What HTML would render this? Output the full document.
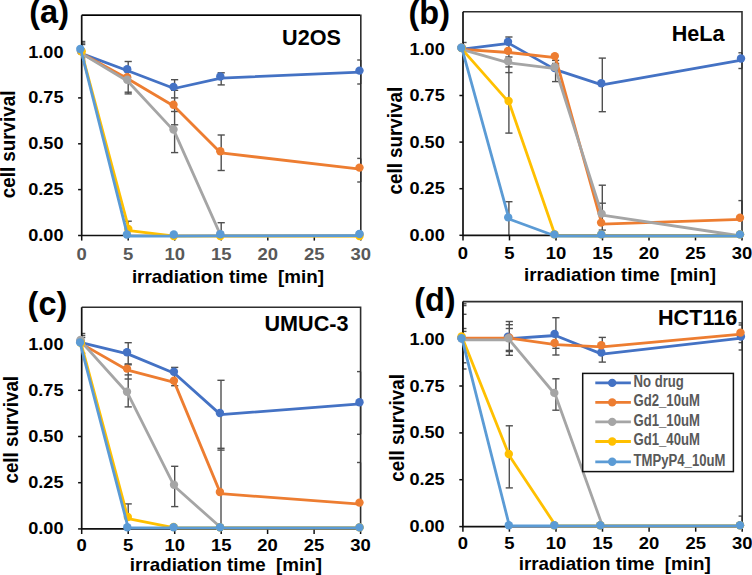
<!DOCTYPE html>
<html><head><meta charset="utf-8"><style>
html,body{margin:0;padding:0;background:#fff;overflow:hidden;}
svg{display:block;}
text{font-family:"Liberation Sans",sans-serif;font-weight:bold;white-space:pre;}
</style></head><body>
<svg width="752" height="575" viewBox="0 0 752 575">
<rect width="752" height="575" fill="#fff"/>
<line x1="81.7" y1="41.5" x2="81.7" y2="61.5" stroke="#505050" stroke-width="1.4"/>
<line x1="81.7" y1="41.5" x2="85.3" y2="41.5" stroke="#505050" stroke-width="1.4"/>
<line x1="81.7" y1="43" x2="85.3" y2="43" stroke="#505050" stroke-width="1.4"/>
<line x1="81.7" y1="44.5" x2="85.3" y2="44.5" stroke="#505050" stroke-width="1.4"/>
<line x1="81.7" y1="58" x2="85.3" y2="58" stroke="#505050" stroke-width="1.4"/>
<line x1="81.7" y1="60" x2="85.3" y2="60" stroke="#505050" stroke-width="1.4"/>
<line x1="81.7" y1="61.5" x2="85.3" y2="61.5" stroke="#505050" stroke-width="1.4"/>
<line x1="128.2" y1="61.5" x2="128.2" y2="93.9" stroke="#505050" stroke-width="1.4"/>
<line x1="128.2" y1="221.2" x2="128.2" y2="230" stroke="#505050" stroke-width="1.4"/>
<line x1="124.6" y1="61.5" x2="131.8" y2="61.5" stroke="#505050" stroke-width="1.4"/>
<line x1="124.6" y1="92.2" x2="131.8" y2="92.2" stroke="#505050" stroke-width="1.4"/>
<line x1="124.6" y1="93.9" x2="131.8" y2="93.9" stroke="#505050" stroke-width="1.4"/>
<line x1="124.6" y1="221.2" x2="131.8" y2="221.2" stroke="#505050" stroke-width="1.4"/>
<line x1="174.6" y1="79.7" x2="174.6" y2="152.6" stroke="#505050" stroke-width="1.4"/>
<line x1="171.0" y1="79.7" x2="178.2" y2="79.7" stroke="#505050" stroke-width="1.4"/>
<line x1="171.0" y1="90.3" x2="178.2" y2="90.3" stroke="#505050" stroke-width="1.4"/>
<line x1="171.0" y1="97.9" x2="178.2" y2="97.9" stroke="#505050" stroke-width="1.4"/>
<line x1="171.0" y1="111.5" x2="178.2" y2="111.5" stroke="#505050" stroke-width="1.4"/>
<line x1="171.0" y1="124.8" x2="178.2" y2="124.8" stroke="#505050" stroke-width="1.4"/>
<line x1="171.0" y1="152.6" x2="178.2" y2="152.6" stroke="#505050" stroke-width="1.4"/>
<line x1="221.2" y1="72.8" x2="221.2" y2="84.9" stroke="#505050" stroke-width="1.4"/>
<line x1="221.2" y1="135" x2="221.2" y2="170.5" stroke="#505050" stroke-width="1.4"/>
<line x1="221.2" y1="222.7" x2="221.2" y2="235" stroke="#505050" stroke-width="1.4"/>
<line x1="217.6" y1="72.8" x2="224.8" y2="72.8" stroke="#505050" stroke-width="1.4"/>
<line x1="217.6" y1="84.9" x2="224.8" y2="84.9" stroke="#505050" stroke-width="1.4"/>
<line x1="217.6" y1="135" x2="224.8" y2="135" stroke="#505050" stroke-width="1.4"/>
<line x1="217.6" y1="170.5" x2="224.8" y2="170.5" stroke="#505050" stroke-width="1.4"/>
<line x1="217.6" y1="222.7" x2="224.8" y2="222.7" stroke="#505050" stroke-width="1.4"/>
<line x1="360.8" y1="60" x2="360.8" y2="84" stroke="#505050" stroke-width="1.4"/>
<line x1="360.8" y1="158.4" x2="360.8" y2="182" stroke="#505050" stroke-width="1.4"/>
<line x1="357.2" y1="60" x2="360.8" y2="60" stroke="#505050" stroke-width="1.4"/>
<line x1="357.2" y1="84" x2="360.8" y2="84" stroke="#505050" stroke-width="1.4"/>
<line x1="357.2" y1="158.4" x2="360.8" y2="158.4" stroke="#505050" stroke-width="1.4"/>
<line x1="357.2" y1="182" x2="360.8" y2="182" stroke="#505050" stroke-width="1.4"/>
<path d="M81.7 15.3 H360.8 V235.5" fill="none" stroke="#2e2e2e" stroke-width="1.6"/>
<path d="M81.7 15.3 H360.0" fill="none" stroke="#000" stroke-width="1.6"/>
<path d="M81.7 15.3 V235.5 H360.8" fill="none" stroke="#111" stroke-width="1.7"/>
<line x1="78.1" y1="235.5" x2="81.7" y2="235.5" stroke="#111" stroke-width="1.5"/>
<line x1="78.1" y1="189.6" x2="81.7" y2="189.6" stroke="#111" stroke-width="1.5"/>
<line x1="78.1" y1="143.8" x2="81.7" y2="143.8" stroke="#111" stroke-width="1.5"/>
<line x1="78.1" y1="97.9" x2="81.7" y2="97.9" stroke="#111" stroke-width="1.5"/>
<line x1="78.1" y1="52.0" x2="81.7" y2="52.0" stroke="#111" stroke-width="1.5"/>
<line x1="81.7" y1="235.5" x2="81.7" y2="240.6" stroke="#111" stroke-width="1.5"/>
<line x1="128.2" y1="235.5" x2="128.2" y2="240.6" stroke="#111" stroke-width="1.5"/>
<line x1="174.7" y1="235.5" x2="174.7" y2="240.6" stroke="#111" stroke-width="1.5"/>
<line x1="221.2" y1="235.5" x2="221.2" y2="240.6" stroke="#111" stroke-width="1.5"/>
<line x1="267.8" y1="235.5" x2="267.8" y2="240.6" stroke="#111" stroke-width="1.5"/>
<line x1="314.3" y1="235.5" x2="314.3" y2="240.6" stroke="#111" stroke-width="1.5"/>
<line x1="360.8" y1="235.5" x2="360.8" y2="240.6" stroke="#111" stroke-width="1.5"/>
<path d="M81.7 53.6 L127.8 70.8 L174.2 88.5 L220.9 78.1 L360.2 72.2" fill="none" stroke="#4472C4" stroke-width="2.8" stroke-linejoin="round"/>
<circle cx="81" cy="51" r="4.2" fill="#4472C4"/>
<circle cx="127.2" cy="69.2" r="4.2" fill="#4472C4"/>
<circle cx="173.5" cy="86.9" r="4.2" fill="#4472C4"/>
<circle cx="220.3" cy="76.5" r="4.2" fill="#4472C4"/>
<circle cx="359.5" cy="70.6" r="4.2" fill="#4472C4"/>
<path d="M81.7 53.6 L127.8 78.8 L174.2 106.3 L220.9 152.9 L360.2 169.2" fill="none" stroke="#ED7D31" stroke-width="2.8" stroke-linejoin="round"/>
<circle cx="81" cy="51" r="4.2" fill="#ED7D31"/>
<circle cx="127.2" cy="77.2" r="4.2" fill="#ED7D31"/>
<circle cx="173.5" cy="104.7" r="4.2" fill="#ED7D31"/>
<circle cx="220.3" cy="151.3" r="4.2" fill="#ED7D31"/>
<circle cx="359.5" cy="167.6" r="4.2" fill="#ED7D31"/>
<path d="M81.7 53.6 L127.8 81.3 L174.2 131.1 L220.9 235.9 L360.2 235.9" fill="none" stroke="#A5A5A5" stroke-width="2.8" stroke-linejoin="round"/>
<circle cx="81" cy="51" r="4.2" fill="#A5A5A5"/>
<circle cx="127.2" cy="79.7" r="4.2" fill="#A5A5A5"/>
<circle cx="173.5" cy="129.5" r="4.2" fill="#A5A5A5"/>
<circle cx="220.3" cy="234.3" r="4.2" fill="#A5A5A5"/>
<circle cx="359.5" cy="234.3" r="4.2" fill="#A5A5A5"/>
<path d="M81.2 50.8 L129.3 230.6 L174.7 236.1 L221.3 236.1 L360.8 236.1" fill="none" stroke="#FFC000" stroke-width="2.8" stroke-linejoin="round"/>
<circle cx="81.7" cy="51.5" r="4.2" fill="#FFC000"/>
<circle cx="128.3" cy="229" r="4.2" fill="#FFC000"/>
<circle cx="173.8" cy="236" r="4.2" fill="#FFC000"/>
<circle cx="220.3" cy="236" r="4.2" fill="#FFC000"/>
<circle cx="359.5" cy="236" r="4.2" fill="#FFC000"/>
<path d="M81.0 50.5 L127.7 236.1 L174.4 236.1 L220.9 235.9 L360.2 235.6" fill="none" stroke="#5B9BD5" stroke-width="2.8" stroke-linejoin="round"/>
<circle cx="80.3" cy="49" r="4.2" fill="#5B9BD5"/>
<circle cx="126.9" cy="234.5" r="4.2" fill="#5B9BD5"/>
<circle cx="173.8" cy="234.5" r="4.2" fill="#5B9BD5"/>
<circle cx="220.3" cy="234.3" r="4.2" fill="#5B9BD5"/>
<circle cx="359.5" cy="234" r="4.2" fill="#5B9BD5"/>
<text transform="translate(63.5,241.0) scale(1.1,1)" text-anchor="end" font-size="16.5" font-family="Liberation Sans, sans-serif" font-weight="bold">0.00</text>
<text transform="translate(63.5,195.1) scale(1.1,1)" text-anchor="end" font-size="16.5" font-family="Liberation Sans, sans-serif" font-weight="bold">0.25</text>
<text transform="translate(63.5,149.2) scale(1.1,1)" text-anchor="end" font-size="16.5" font-family="Liberation Sans, sans-serif" font-weight="bold">0.50</text>
<text transform="translate(63.5,103.4) scale(1.1,1)" text-anchor="end" font-size="16.5" font-family="Liberation Sans, sans-serif" font-weight="bold">0.75</text>
<text transform="translate(63.5,57.5) scale(1.1,1)" text-anchor="end" font-size="16.5" font-family="Liberation Sans, sans-serif" font-weight="bold">1.00</text>
<text transform="translate(81.7,259.7) scale(1.12,1)" text-anchor="middle" font-size="16.5" fill="#595959" font-family="Liberation Sans, sans-serif" font-weight="bold">0</text>
<text transform="translate(128.2,259.7) scale(1.12,1)" text-anchor="middle" font-size="16.5" fill="#595959" font-family="Liberation Sans, sans-serif" font-weight="bold">5</text>
<text transform="translate(174.7,259.7) scale(1.12,1)" text-anchor="middle" font-size="16.5" fill="#595959" font-family="Liberation Sans, sans-serif" font-weight="bold">10</text>
<text transform="translate(221.2,259.7) scale(1.12,1)" text-anchor="middle" font-size="16.5" fill="#595959" font-family="Liberation Sans, sans-serif" font-weight="bold">15</text>
<text transform="translate(267.8,259.7) scale(1.12,1)" text-anchor="middle" font-size="16.5" fill="#595959" font-family="Liberation Sans, sans-serif" font-weight="bold">20</text>
<text transform="translate(314.3,259.7) scale(1.12,1)" text-anchor="middle" font-size="16.5" fill="#595959" font-family="Liberation Sans, sans-serif" font-weight="bold">25</text>
<text transform="translate(360.8,259.7) scale(1.12,1)" text-anchor="middle" font-size="16.5" fill="#595959" font-family="Liberation Sans, sans-serif" font-weight="bold">30</text>
<text transform="translate(227.9,282.5) scale(1,0.99)" text-anchor="middle" font-size="18.8" font-family="Liberation Sans, sans-serif" font-weight="bold" xml:space="preserve">irradiation time  [min]</text>
<text transform="translate(15,144.4) rotate(-90) scale(1,1.05)" text-anchor="middle" font-size="18.8" font-family="Liberation Sans, sans-serif" font-weight="bold">cell survival</text>
<text x="29.3" y="23.2" font-size="32.5" font-family="Liberation Sans, sans-serif" font-weight="bold">(a)</text>
<text transform="translate(341.0,44.5) scale(1.03,1.06)" text-anchor="end" font-size="21" font-family="Liberation Sans, sans-serif" font-weight="bold">U2OS</text>
<line x1="463" y1="42.5" x2="463" y2="48" stroke="#505050" stroke-width="1.4"/>
<line x1="463.0" y1="42.5" x2="466.6" y2="42.5" stroke="#505050" stroke-width="1.4"/>
<line x1="508.9" y1="37" x2="508.9" y2="133.1" stroke="#505050" stroke-width="1.4"/>
<line x1="508.9" y1="201.7" x2="508.9" y2="235" stroke="#505050" stroke-width="1.4"/>
<line x1="505.3" y1="37" x2="512.5" y2="37" stroke="#505050" stroke-width="1.4"/>
<line x1="505.3" y1="57" x2="512.5" y2="57" stroke="#505050" stroke-width="1.4"/>
<line x1="505.3" y1="66.9" x2="512.5" y2="66.9" stroke="#505050" stroke-width="1.4"/>
<line x1="505.3" y1="72.6" x2="512.5" y2="72.6" stroke="#505050" stroke-width="1.4"/>
<line x1="505.3" y1="133.1" x2="512.5" y2="133.1" stroke="#505050" stroke-width="1.4"/>
<line x1="505.3" y1="201.7" x2="512.5" y2="201.7" stroke="#505050" stroke-width="1.4"/>
<line x1="555.6" y1="60.4" x2="555.6" y2="81.6" stroke="#505050" stroke-width="1.4"/>
<line x1="552.0" y1="60.4" x2="559.2" y2="60.4" stroke="#505050" stroke-width="1.4"/>
<line x1="552.0" y1="63.5" x2="559.2" y2="63.5" stroke="#505050" stroke-width="1.4"/>
<line x1="552.0" y1="65.2" x2="559.2" y2="65.2" stroke="#505050" stroke-width="1.4"/>
<line x1="552.0" y1="81.6" x2="559.2" y2="81.6" stroke="#505050" stroke-width="1.4"/>
<line x1="602.3" y1="58.1" x2="602.3" y2="111.7" stroke="#505050" stroke-width="1.4"/>
<line x1="602.3" y1="185.2" x2="602.3" y2="235" stroke="#505050" stroke-width="1.4"/>
<line x1="598.7" y1="58.1" x2="605.9" y2="58.1" stroke="#505050" stroke-width="1.4"/>
<line x1="598.7" y1="111.7" x2="605.9" y2="111.7" stroke="#505050" stroke-width="1.4"/>
<line x1="598.7" y1="185.2" x2="605.9" y2="185.2" stroke="#505050" stroke-width="1.4"/>
<line x1="598.7" y1="203.2" x2="605.9" y2="203.2" stroke="#505050" stroke-width="1.4"/>
<line x1="598.7" y1="230.1" x2="605.9" y2="230.1" stroke="#505050" stroke-width="1.4"/>
<line x1="742" y1="52.8" x2="742" y2="68.5" stroke="#505050" stroke-width="1.4"/>
<line x1="742" y1="200.6" x2="742" y2="217" stroke="#505050" stroke-width="1.4"/>
<line x1="738.4" y1="52.8" x2="742.0" y2="52.8" stroke="#505050" stroke-width="1.4"/>
<line x1="738.4" y1="68.5" x2="742.0" y2="68.5" stroke="#505050" stroke-width="1.4"/>
<line x1="738.4" y1="200.6" x2="742.0" y2="200.6" stroke="#505050" stroke-width="1.4"/>
<path d="M463 11.7 H742 V235.3" fill="none" stroke="#2e2e2e" stroke-width="1.6"/>
<path d="M463 11.7 V235.3 H742" fill="none" stroke="#111" stroke-width="1.7"/>
<line x1="459.4" y1="235.3" x2="463" y2="235.3" stroke="#111" stroke-width="1.5"/>
<line x1="459.4" y1="188.7" x2="463" y2="188.7" stroke="#111" stroke-width="1.5"/>
<line x1="459.4" y1="142.1" x2="463" y2="142.1" stroke="#111" stroke-width="1.5"/>
<line x1="459.4" y1="95.5" x2="463" y2="95.5" stroke="#111" stroke-width="1.5"/>
<line x1="459.4" y1="49.0" x2="463" y2="49.0" stroke="#111" stroke-width="1.5"/>
<line x1="463.0" y1="235.3" x2="463.0" y2="240.4" stroke="#111" stroke-width="1.5"/>
<line x1="509.5" y1="235.3" x2="509.5" y2="240.4" stroke="#111" stroke-width="1.5"/>
<line x1="556.0" y1="235.3" x2="556.0" y2="240.4" stroke="#111" stroke-width="1.5"/>
<line x1="602.5" y1="235.3" x2="602.5" y2="240.4" stroke="#111" stroke-width="1.5"/>
<line x1="649.0" y1="235.3" x2="649.0" y2="240.4" stroke="#111" stroke-width="1.5"/>
<line x1="695.5" y1="235.3" x2="695.5" y2="240.4" stroke="#111" stroke-width="1.5"/>
<line x1="742.0" y1="235.3" x2="742.0" y2="240.4" stroke="#111" stroke-width="1.5"/>
<path d="M462.4 49.2 L508.9 43.4 L555.4 69.6 L602.0 84.8 L741.6 60.1" fill="none" stroke="#4472C4" stroke-width="2.8" stroke-linejoin="round"/>
<circle cx="461.6" cy="47.6" r="4.2" fill="#4472C4"/>
<circle cx="508" cy="41.8" r="4.2" fill="#4472C4"/>
<circle cx="554.6" cy="68" r="4.2" fill="#4472C4"/>
<circle cx="601.3" cy="83.2" r="4.2" fill="#4472C4"/>
<circle cx="741" cy="58.5" r="4.2" fill="#4472C4"/>
<path d="M462.4 49.4 L508.9 52.5 L555.5 57.7 L601.9 224.2 L741.1 219.3" fill="none" stroke="#ED7D31" stroke-width="2.8" stroke-linejoin="round"/>
<circle cx="461.6" cy="47.8" r="4.2" fill="#ED7D31"/>
<circle cx="508" cy="50.9" r="4.2" fill="#ED7D31"/>
<circle cx="554.8" cy="56.1" r="4.2" fill="#ED7D31"/>
<circle cx="601.1" cy="222.6" r="4.2" fill="#ED7D31"/>
<circle cx="740" cy="217.7" r="4.2" fill="#ED7D31"/>
<path d="M462.4 49.6 L508.9 62.9 L555.4 68.6 L602.1 215.2 L741.1 236.0" fill="none" stroke="#A5A5A5" stroke-width="2.8" stroke-linejoin="round"/>
<circle cx="461.6" cy="48" r="4.2" fill="#A5A5A5"/>
<circle cx="508" cy="61.3" r="4.2" fill="#A5A5A5"/>
<circle cx="554.6" cy="67" r="4.2" fill="#A5A5A5"/>
<circle cx="601.6" cy="213.6" r="4.2" fill="#A5A5A5"/>
<circle cx="740" cy="234.4" r="4.2" fill="#A5A5A5"/>
<path d="M462.4 49.6 L509.2 102.6 L555.3 235.8 L602.0 236.0 L741.1 236.0" fill="none" stroke="#FFC000" stroke-width="2.8" stroke-linejoin="round"/>
<circle cx="461.6" cy="48" r="4.2" fill="#FFC000"/>
<circle cx="508.6" cy="101" r="4.2" fill="#FFC000"/>
<circle cx="554.4" cy="234.2" r="4.2" fill="#FFC000"/>
<circle cx="601.3" cy="234.4" r="4.2" fill="#FFC000"/>
<circle cx="740" cy="234.4" r="4.2" fill="#FFC000"/>
<path d="M462.2 49.4 L509.0 219.0 L555.3 236.0 L602.0 236.0 L741.1 236.0" fill="none" stroke="#5B9BD5" stroke-width="2.8" stroke-linejoin="round"/>
<circle cx="461.3" cy="47.8" r="4.2" fill="#5B9BD5"/>
<circle cx="508.2" cy="217.4" r="4.2" fill="#5B9BD5"/>
<circle cx="554.4" cy="234.4" r="4.2" fill="#5B9BD5"/>
<circle cx="601.3" cy="234.4" r="4.2" fill="#5B9BD5"/>
<circle cx="740" cy="234.4" r="4.2" fill="#5B9BD5"/>
<text transform="translate(444.8,240.8) scale(1.1,1)" text-anchor="end" font-size="16.5" font-family="Liberation Sans, sans-serif" font-weight="bold">0.00</text>
<text transform="translate(444.8,194.2) scale(1.1,1)" text-anchor="end" font-size="16.5" font-family="Liberation Sans, sans-serif" font-weight="bold">0.25</text>
<text transform="translate(444.8,147.6) scale(1.1,1)" text-anchor="end" font-size="16.5" font-family="Liberation Sans, sans-serif" font-weight="bold">0.50</text>
<text transform="translate(444.8,101.0) scale(1.1,1)" text-anchor="end" font-size="16.5" font-family="Liberation Sans, sans-serif" font-weight="bold">0.75</text>
<text transform="translate(444.8,54.5) scale(1.1,1)" text-anchor="end" font-size="16.5" font-family="Liberation Sans, sans-serif" font-weight="bold">1.00</text>
<text transform="translate(463.0,259.3) scale(1.12,1)" text-anchor="middle" font-size="16.5" fill="#000" font-family="Liberation Sans, sans-serif" font-weight="bold">0</text>
<text transform="translate(509.5,259.3) scale(1.12,1)" text-anchor="middle" font-size="16.5" fill="#000" font-family="Liberation Sans, sans-serif" font-weight="bold">5</text>
<text transform="translate(556.0,259.3) scale(1.12,1)" text-anchor="middle" font-size="16.5" fill="#000" font-family="Liberation Sans, sans-serif" font-weight="bold">10</text>
<text transform="translate(602.5,259.3) scale(1.12,1)" text-anchor="middle" font-size="16.5" fill="#000" font-family="Liberation Sans, sans-serif" font-weight="bold">15</text>
<text transform="translate(649.0,259.3) scale(1.12,1)" text-anchor="middle" font-size="16.5" fill="#000" font-family="Liberation Sans, sans-serif" font-weight="bold">20</text>
<text transform="translate(695.5,259.3) scale(1.12,1)" text-anchor="middle" font-size="16.5" fill="#000" font-family="Liberation Sans, sans-serif" font-weight="bold">25</text>
<text transform="translate(742.0,259.3) scale(1.12,1)" text-anchor="middle" font-size="16.5" fill="#000" font-family="Liberation Sans, sans-serif" font-weight="bold">30</text>
<text transform="translate(620,280.6) scale(1,0.94)" text-anchor="middle" font-size="18.8" font-family="Liberation Sans, sans-serif" font-weight="bold" xml:space="preserve">irradiation time  [min]</text>
<text transform="translate(402.3,140.65) rotate(-90) scale(1,1.05)" text-anchor="middle" font-size="18.8" font-family="Liberation Sans, sans-serif" font-weight="bold">cell survival</text>
<text x="408.5" y="23.5" font-size="32.5" font-family="Liberation Sans, sans-serif" font-weight="bold">(b)</text>
<text transform="translate(724.5999999999999,40.8) scale(1.03,1.06)" text-anchor="end" font-size="21" font-family="Liberation Sans, sans-serif" font-weight="bold">HeLa</text>
<line x1="81.7" y1="333.5" x2="81.7" y2="353.2" stroke="#505050" stroke-width="1.4"/>
<line x1="81.7" y1="333.5" x2="85.3" y2="333.5" stroke="#505050" stroke-width="1.4"/>
<line x1="81.7" y1="335.5" x2="85.3" y2="335.5" stroke="#505050" stroke-width="1.4"/>
<line x1="81.7" y1="337.5" x2="85.3" y2="337.5" stroke="#505050" stroke-width="1.4"/>
<line x1="81.7" y1="353.2" x2="85.3" y2="353.2" stroke="#505050" stroke-width="1.4"/>
<line x1="128.2" y1="342.7" x2="128.2" y2="406.9" stroke="#505050" stroke-width="1.4"/>
<line x1="128.2" y1="503.9" x2="128.2" y2="517" stroke="#505050" stroke-width="1.4"/>
<line x1="124.6" y1="342.7" x2="131.8" y2="342.7" stroke="#505050" stroke-width="1.4"/>
<line x1="124.6" y1="363.9" x2="131.8" y2="363.9" stroke="#505050" stroke-width="1.4"/>
<line x1="124.6" y1="364.8" x2="131.8" y2="364.8" stroke="#505050" stroke-width="1.4"/>
<line x1="124.6" y1="374.9" x2="131.8" y2="374.9" stroke="#505050" stroke-width="1.4"/>
<line x1="124.6" y1="379" x2="131.8" y2="379" stroke="#505050" stroke-width="1.4"/>
<line x1="124.6" y1="406.9" x2="131.8" y2="406.9" stroke="#505050" stroke-width="1.4"/>
<line x1="124.6" y1="503.9" x2="131.8" y2="503.9" stroke="#505050" stroke-width="1.4"/>
<line x1="174.7" y1="367.4" x2="174.7" y2="385.7" stroke="#505050" stroke-width="1.4"/>
<line x1="174.7" y1="466.3" x2="174.7" y2="506.6" stroke="#505050" stroke-width="1.4"/>
<line x1="171.1" y1="367.4" x2="178.3" y2="367.4" stroke="#505050" stroke-width="1.4"/>
<line x1="171.1" y1="385.7" x2="178.3" y2="385.7" stroke="#505050" stroke-width="1.4"/>
<line x1="171.1" y1="466.3" x2="178.3" y2="466.3" stroke="#505050" stroke-width="1.4"/>
<line x1="171.1" y1="506.6" x2="178.3" y2="506.6" stroke="#505050" stroke-width="1.4"/>
<line x1="221" y1="380.3" x2="221" y2="528" stroke="#505050" stroke-width="1.4"/>
<line x1="217.4" y1="380.3" x2="224.6" y2="380.3" stroke="#505050" stroke-width="1.4"/>
<line x1="217.4" y1="448.3" x2="224.6" y2="448.3" stroke="#505050" stroke-width="1.4"/>
<line x1="217.4" y1="450.1" x2="224.6" y2="450.1" stroke="#505050" stroke-width="1.4"/>
<line x1="360.6" y1="371.6" x2="360.6" y2="434.3" stroke="#505050" stroke-width="1.4"/>
<line x1="360.6" y1="462.5" x2="360.6" y2="502" stroke="#505050" stroke-width="1.4"/>
<line x1="357.0" y1="371.6" x2="360.6" y2="371.6" stroke="#505050" stroke-width="1.4"/>
<line x1="357.0" y1="434.3" x2="360.6" y2="434.3" stroke="#505050" stroke-width="1.4"/>
<line x1="357.0" y1="462.5" x2="360.6" y2="462.5" stroke="#505050" stroke-width="1.4"/>
<path d="M81.7 307.2 H360.6 V528.9" fill="none" stroke="#2e2e2e" stroke-width="1.6"/>
<path d="M81.7 307.2 V528.9 H360.6" fill="none" stroke="#111" stroke-width="1.7"/>
<line x1="78.1" y1="528.9" x2="81.7" y2="528.9" stroke="#111" stroke-width="1.5"/>
<line x1="78.1" y1="482.7" x2="81.7" y2="482.7" stroke="#111" stroke-width="1.5"/>
<line x1="78.1" y1="436.5" x2="81.7" y2="436.5" stroke="#111" stroke-width="1.5"/>
<line x1="78.1" y1="390.3" x2="81.7" y2="390.3" stroke="#111" stroke-width="1.5"/>
<line x1="78.1" y1="344.1" x2="81.7" y2="344.1" stroke="#111" stroke-width="1.5"/>
<line x1="81.7" y1="528.9" x2="81.7" y2="534.0" stroke="#111" stroke-width="1.5"/>
<line x1="128.2" y1="528.9" x2="128.2" y2="534.0" stroke="#111" stroke-width="1.5"/>
<line x1="174.7" y1="528.9" x2="174.7" y2="534.0" stroke="#111" stroke-width="1.5"/>
<line x1="221.2" y1="528.9" x2="221.2" y2="534.0" stroke="#111" stroke-width="1.5"/>
<line x1="267.6" y1="528.9" x2="267.6" y2="534.0" stroke="#111" stroke-width="1.5"/>
<line x1="314.1" y1="528.9" x2="314.1" y2="534.0" stroke="#111" stroke-width="1.5"/>
<line x1="360.6" y1="528.9" x2="360.6" y2="534.0" stroke="#111" stroke-width="1.5"/>
<path d="M81.2 342.6 L127.7 353.9 L174.4 373.3 L220.6 414.6 L360.2 403.9" fill="none" stroke="#4472C4" stroke-width="2.8" stroke-linejoin="round"/>
<circle cx="80.5" cy="341" r="4.2" fill="#4472C4"/>
<circle cx="127" cy="352.3" r="4.2" fill="#4472C4"/>
<circle cx="173.9" cy="371.7" r="4.2" fill="#4472C4"/>
<circle cx="219.9" cy="413" r="4.2" fill="#4472C4"/>
<circle cx="359.5" cy="402.3" r="4.2" fill="#4472C4"/>
<path d="M81.2 343.6 L127.7 370.2 L174.4 382.4 L220.6 493.6 L360.2 504.2" fill="none" stroke="#ED7D31" stroke-width="2.8" stroke-linejoin="round"/>
<circle cx="80.5" cy="342" r="4.2" fill="#ED7D31"/>
<circle cx="127" cy="368.6" r="4.2" fill="#ED7D31"/>
<circle cx="173.9" cy="380.8" r="4.2" fill="#ED7D31"/>
<circle cx="219.9" cy="492" r="4.2" fill="#ED7D31"/>
<circle cx="359.5" cy="502.6" r="4.2" fill="#ED7D31"/>
<path d="M81.2 341.6 L127.7 393.3 L174.4 486.3 L221.1 527.8 L360.6 527.8" fill="none" stroke="#A5A5A5" stroke-width="2.8" stroke-linejoin="round"/>
<circle cx="80.5" cy="340" r="4.2" fill="#A5A5A5"/>
<circle cx="127" cy="391.7" r="4.2" fill="#A5A5A5"/>
<circle cx="174" cy="484.7" r="4.2" fill="#A5A5A5"/>
<circle cx="220" cy="527.2" r="4.2" fill="#A5A5A5"/>
<circle cx="359.5" cy="527.4" r="4.2" fill="#A5A5A5"/>
<path d="M81.4 344.6 L128.1 518.6 L174.7 527.8 L221.1 527.8 L360.6 527.8" fill="none" stroke="#FFC000" stroke-width="2.8" stroke-linejoin="round"/>
<circle cx="81" cy="343" r="4.2" fill="#FFC000"/>
<circle cx="127.8" cy="517" r="4.2" fill="#FFC000"/>
<circle cx="173.6" cy="527" r="4.2" fill="#FFC000"/>
<circle cx="220" cy="527.2" r="4.2" fill="#FFC000"/>
<circle cx="359.5" cy="527.4" r="4.2" fill="#FFC000"/>
<path d="M80.3 343.9 L128.2 527.8 L174.7 527.8 L221.1 527.8 L360.6 527.8" fill="none" stroke="#5B9BD5" stroke-width="2.8" stroke-linejoin="round"/>
<circle cx="80.1" cy="342.4" r="4.2" fill="#5B9BD5"/>
<circle cx="127.3" cy="527.2" r="4.2" fill="#5B9BD5"/>
<circle cx="173.6" cy="527.2" r="4.2" fill="#5B9BD5"/>
<circle cx="220" cy="527.2" r="4.2" fill="#5B9BD5"/>
<circle cx="359.5" cy="527.4" r="4.2" fill="#5B9BD5"/>
<text transform="translate(63.5,534.4) scale(1.1,1)" text-anchor="end" font-size="16.5" font-family="Liberation Sans, sans-serif" font-weight="bold">0.00</text>
<text transform="translate(63.5,488.2) scale(1.1,1)" text-anchor="end" font-size="16.5" font-family="Liberation Sans, sans-serif" font-weight="bold">0.25</text>
<text transform="translate(63.5,442.0) scale(1.1,1)" text-anchor="end" font-size="16.5" font-family="Liberation Sans, sans-serif" font-weight="bold">0.50</text>
<text transform="translate(63.5,395.8) scale(1.1,1)" text-anchor="end" font-size="16.5" font-family="Liberation Sans, sans-serif" font-weight="bold">0.75</text>
<text transform="translate(63.5,349.6) scale(1.1,1)" text-anchor="end" font-size="16.5" font-family="Liberation Sans, sans-serif" font-weight="bold">1.00</text>
<text transform="translate(81.7,550.5) scale(1.12,1)" text-anchor="middle" font-size="16.5" fill="#000" font-family="Liberation Sans, sans-serif" font-weight="bold">0</text>
<text transform="translate(128.2,550.5) scale(1.12,1)" text-anchor="middle" font-size="16.5" fill="#000" font-family="Liberation Sans, sans-serif" font-weight="bold">5</text>
<text transform="translate(174.7,550.5) scale(1.12,1)" text-anchor="middle" font-size="16.5" fill="#000" font-family="Liberation Sans, sans-serif" font-weight="bold">10</text>
<text transform="translate(221.2,550.5) scale(1.12,1)" text-anchor="middle" font-size="16.5" fill="#000" font-family="Liberation Sans, sans-serif" font-weight="bold">15</text>
<text transform="translate(267.6,550.5) scale(1.12,1)" text-anchor="middle" font-size="16.5" fill="#000" font-family="Liberation Sans, sans-serif" font-weight="bold">20</text>
<text transform="translate(314.1,550.5) scale(1.12,1)" text-anchor="middle" font-size="16.5" fill="#000" font-family="Liberation Sans, sans-serif" font-weight="bold">25</text>
<text transform="translate(360.6,550.5) scale(1.12,1)" text-anchor="middle" font-size="16.5" fill="#000" font-family="Liberation Sans, sans-serif" font-weight="bold">30</text>
<text transform="translate(225.9,570.7) scale(1,0.94)" text-anchor="middle" font-size="18.8" font-family="Liberation Sans, sans-serif" font-weight="bold" xml:space="preserve">irradiation time  [min]</text>
<text transform="translate(18.2,429.75) rotate(-90) scale(1,1.05)" text-anchor="middle" font-size="18.8" font-family="Liberation Sans, sans-serif" font-weight="bold">cell survival</text>
<text x="27.6" y="315.3" font-size="32.5" font-family="Liberation Sans, sans-serif" font-weight="bold">(c)</text>
<text transform="translate(348.5,330.6) scale(1.03,1.06)" text-anchor="end" font-size="21" font-family="Liberation Sans, sans-serif" font-weight="bold">UMUC-3</text>
<line x1="462.9" y1="303.8" x2="462.9" y2="369" stroke="#505050" stroke-width="1.4"/>
<line x1="462.9" y1="303.8" x2="466.5" y2="303.8" stroke="#505050" stroke-width="1.4"/>
<line x1="462.9" y1="305.6" x2="466.5" y2="305.6" stroke="#505050" stroke-width="1.4"/>
<line x1="462.9" y1="314.3" x2="466.5" y2="314.3" stroke="#505050" stroke-width="1.4"/>
<line x1="462.9" y1="328.5" x2="466.5" y2="328.5" stroke="#505050" stroke-width="1.4"/>
<line x1="462.9" y1="331.4" x2="466.5" y2="331.4" stroke="#505050" stroke-width="1.4"/>
<line x1="462.9" y1="346.5" x2="466.5" y2="346.5" stroke="#505050" stroke-width="1.4"/>
<line x1="462.9" y1="347.8" x2="466.5" y2="347.8" stroke="#505050" stroke-width="1.4"/>
<line x1="462.9" y1="362.8" x2="466.5" y2="362.8" stroke="#505050" stroke-width="1.4"/>
<line x1="462.9" y1="369" x2="466.5" y2="369" stroke="#505050" stroke-width="1.4"/>
<line x1="509.3" y1="321.5" x2="509.3" y2="355.3" stroke="#505050" stroke-width="1.4"/>
<line x1="509.3" y1="425.8" x2="509.3" y2="487.9" stroke="#505050" stroke-width="1.4"/>
<line x1="505.7" y1="321.5" x2="512.9" y2="321.5" stroke="#505050" stroke-width="1.4"/>
<line x1="505.7" y1="324.7" x2="512.9" y2="324.7" stroke="#505050" stroke-width="1.4"/>
<line x1="505.7" y1="328.5" x2="512.9" y2="328.5" stroke="#505050" stroke-width="1.4"/>
<line x1="505.7" y1="350.4" x2="512.9" y2="350.4" stroke="#505050" stroke-width="1.4"/>
<line x1="505.7" y1="351.5" x2="512.9" y2="351.5" stroke="#505050" stroke-width="1.4"/>
<line x1="505.7" y1="355.3" x2="512.9" y2="355.3" stroke="#505050" stroke-width="1.4"/>
<line x1="505.7" y1="425.8" x2="512.9" y2="425.8" stroke="#505050" stroke-width="1.4"/>
<line x1="505.7" y1="487.9" x2="512.9" y2="487.9" stroke="#505050" stroke-width="1.4"/>
<line x1="555.9" y1="317.7" x2="555.9" y2="355" stroke="#505050" stroke-width="1.4"/>
<line x1="555.9" y1="378.8" x2="555.9" y2="410.2" stroke="#505050" stroke-width="1.4"/>
<line x1="552.3" y1="317.7" x2="559.5" y2="317.7" stroke="#505050" stroke-width="1.4"/>
<line x1="552.3" y1="348.3" x2="559.5" y2="348.3" stroke="#505050" stroke-width="1.4"/>
<line x1="552.3" y1="355" x2="559.5" y2="355" stroke="#505050" stroke-width="1.4"/>
<line x1="552.3" y1="378.8" x2="559.5" y2="378.8" stroke="#505050" stroke-width="1.4"/>
<line x1="552.3" y1="410.2" x2="559.5" y2="410.2" stroke="#505050" stroke-width="1.4"/>
<line x1="602.3" y1="337.4" x2="602.3" y2="362.1" stroke="#505050" stroke-width="1.4"/>
<line x1="598.7" y1="337.4" x2="605.9" y2="337.4" stroke="#505050" stroke-width="1.4"/>
<line x1="598.7" y1="362.1" x2="605.9" y2="362.1" stroke="#505050" stroke-width="1.4"/>
<line x1="742.2" y1="322.9" x2="742.2" y2="350" stroke="#505050" stroke-width="1.4"/>
<line x1="742.2" y1="516.1" x2="742.2" y2="525" stroke="#505050" stroke-width="1.4"/>
<line x1="738.6" y1="322.9" x2="742.2" y2="322.9" stroke="#505050" stroke-width="1.4"/>
<line x1="738.6" y1="325" x2="742.2" y2="325" stroke="#505050" stroke-width="1.4"/>
<line x1="738.6" y1="342.6" x2="742.2" y2="342.6" stroke="#505050" stroke-width="1.4"/>
<line x1="738.6" y1="350" x2="742.2" y2="350" stroke="#505050" stroke-width="1.4"/>
<line x1="738.6" y1="516.1" x2="742.2" y2="516.1" stroke="#505050" stroke-width="1.4"/>
<path d="M462.9 301.6 H742.2 V526.6" fill="none" stroke="#2e2e2e" stroke-width="1.6"/>
<path d="M462.9 301.6 V526.6 H742.2" fill="none" stroke="#111" stroke-width="1.7"/>
<line x1="459.3" y1="526.6" x2="462.9" y2="526.6" stroke="#111" stroke-width="1.5"/>
<line x1="459.3" y1="479.7" x2="462.9" y2="479.7" stroke="#111" stroke-width="1.5"/>
<line x1="459.3" y1="432.9" x2="462.9" y2="432.9" stroke="#111" stroke-width="1.5"/>
<line x1="459.3" y1="386.0" x2="462.9" y2="386.0" stroke="#111" stroke-width="1.5"/>
<line x1="459.3" y1="339.1" x2="462.9" y2="339.1" stroke="#111" stroke-width="1.5"/>
<line x1="462.9" y1="526.6" x2="462.9" y2="531.7" stroke="#111" stroke-width="1.5"/>
<line x1="509.4" y1="526.6" x2="509.4" y2="531.7" stroke="#111" stroke-width="1.5"/>
<line x1="556.0" y1="526.6" x2="556.0" y2="531.7" stroke="#111" stroke-width="1.5"/>
<line x1="602.5" y1="526.6" x2="602.5" y2="531.7" stroke="#111" stroke-width="1.5"/>
<line x1="649.1" y1="526.6" x2="649.1" y2="531.7" stroke="#111" stroke-width="1.5"/>
<line x1="695.7" y1="526.6" x2="695.7" y2="531.7" stroke="#111" stroke-width="1.5"/>
<line x1="742.2" y1="526.6" x2="742.2" y2="531.7" stroke="#111" stroke-width="1.5"/>
<path d="M462.9 338.6 L509.4 338.6 L555.4 335.5 L602.0 354.1 L741.6 338.1" fill="none" stroke="#4472C4" stroke-width="2.8" stroke-linejoin="round"/>
<circle cx="461.6" cy="338" r="4.2" fill="#4472C4"/>
<circle cx="507.9" cy="336.6" r="4.2" fill="#4472C4"/>
<circle cx="554.6" cy="333.9" r="4.2" fill="#4472C4"/>
<circle cx="601.3" cy="352.5" r="4.2" fill="#4472C4"/>
<circle cx="740.9" cy="336.5" r="4.2" fill="#4472C4"/>
<path d="M462.9 338.2 L509.4 338.2 L555.4 344.6 L602.0 346.8 L741.5 334.2" fill="none" stroke="#ED7D31" stroke-width="2.8" stroke-linejoin="round"/>
<circle cx="461.6" cy="338" r="4.2" fill="#ED7D31"/>
<circle cx="509.3" cy="337.8" r="4.2" fill="#ED7D31"/>
<circle cx="554.6" cy="343" r="4.2" fill="#ED7D31"/>
<circle cx="601.3" cy="345.2" r="4.2" fill="#ED7D31"/>
<circle cx="740.5" cy="332.6" r="4.2" fill="#ED7D31"/>
<path d="M462.9 339.8 L509.4 339.8 L555.2 394.5 L602.5 525.9 L742.2 525.9" fill="none" stroke="#A5A5A5" stroke-width="2.8" stroke-linejoin="round"/>
<circle cx="461.6" cy="338.5" r="4.2" fill="#A5A5A5"/>
<circle cx="508.4" cy="338.2" r="4.2" fill="#A5A5A5"/>
<circle cx="554.3" cy="392.9" r="4.2" fill="#A5A5A5"/>
<circle cx="600.3" cy="525.3" r="4.2" fill="#A5A5A5"/>
<circle cx="740" cy="525.3" r="4.2" fill="#A5A5A5"/>
<path d="M462.4 338.1 L509.2 455.6 L555.9 525.9 L602.5 525.9 L742.2 525.9" fill="none" stroke="#FFC000" stroke-width="2.8" stroke-linejoin="round"/>
<circle cx="461.6" cy="336.5" r="4.2" fill="#FFC000"/>
<circle cx="508.8" cy="454" r="4.2" fill="#FFC000"/>
<circle cx="554.3" cy="525.3" r="4.2" fill="#FFC000"/>
<circle cx="600.3" cy="525.3" r="4.2" fill="#FFC000"/>
<circle cx="740" cy="525.3" r="4.2" fill="#FFC000"/>
<path d="M462.3 339.9 L509.4 525.9 L555.9 525.9 L602.5 525.9 L742.2 525.9" fill="none" stroke="#5B9BD5" stroke-width="2.8" stroke-linejoin="round"/>
<circle cx="461.5" cy="338.3" r="4.2" fill="#5B9BD5"/>
<circle cx="508.8" cy="525.3" r="4.2" fill="#5B9BD5"/>
<circle cx="554.3" cy="525.3" r="4.2" fill="#5B9BD5"/>
<circle cx="600.3" cy="525.3" r="4.2" fill="#5B9BD5"/>
<circle cx="740" cy="525.3" r="4.2" fill="#5B9BD5"/>
<text transform="translate(444.7,532.1) scale(1.1,1)" text-anchor="end" font-size="16.5" font-family="Liberation Sans, sans-serif" font-weight="bold">0.00</text>
<text transform="translate(444.7,485.2) scale(1.1,1)" text-anchor="end" font-size="16.5" font-family="Liberation Sans, sans-serif" font-weight="bold">0.25</text>
<text transform="translate(444.7,438.4) scale(1.1,1)" text-anchor="end" font-size="16.5" font-family="Liberation Sans, sans-serif" font-weight="bold">0.50</text>
<text transform="translate(444.7,391.5) scale(1.1,1)" text-anchor="end" font-size="16.5" font-family="Liberation Sans, sans-serif" font-weight="bold">0.75</text>
<text transform="translate(444.7,344.6) scale(1.1,1)" text-anchor="end" font-size="16.5" font-family="Liberation Sans, sans-serif" font-weight="bold">1.00</text>
<text transform="translate(462.9,549.3) scale(1.12,1)" text-anchor="middle" font-size="16.5" fill="#000" font-family="Liberation Sans, sans-serif" font-weight="bold">0</text>
<text transform="translate(509.4,549.3) scale(1.12,1)" text-anchor="middle" font-size="16.5" fill="#000" font-family="Liberation Sans, sans-serif" font-weight="bold">5</text>
<text transform="translate(556.0,549.3) scale(1.12,1)" text-anchor="middle" font-size="16.5" fill="#000" font-family="Liberation Sans, sans-serif" font-weight="bold">10</text>
<text transform="translate(602.5,549.3) scale(1.12,1)" text-anchor="middle" font-size="16.5" fill="#000" font-family="Liberation Sans, sans-serif" font-weight="bold">15</text>
<text transform="translate(649.1,549.3) scale(1.12,1)" text-anchor="middle" font-size="16.5" fill="#000" font-family="Liberation Sans, sans-serif" font-weight="bold">20</text>
<text transform="translate(695.7,549.3) scale(1.12,1)" text-anchor="middle" font-size="16.5" fill="#000" font-family="Liberation Sans, sans-serif" font-weight="bold">25</text>
<text transform="translate(742.2,549.3) scale(1.12,1)" text-anchor="middle" font-size="16.5" fill="#000" font-family="Liberation Sans, sans-serif" font-weight="bold">30</text>
<text transform="translate(614.7,570.3) scale(1,0.94)" text-anchor="middle" font-size="18.8" font-family="Liberation Sans, sans-serif" font-weight="bold" xml:space="preserve">irradiation time  [min]</text>
<text transform="translate(404,427.85) rotate(-90) scale(1,1.05)" text-anchor="middle" font-size="18.8" font-family="Liberation Sans, sans-serif" font-weight="bold">cell survival</text>
<text x="414.2" y="311.3" font-size="32.5" font-family="Liberation Sans, sans-serif" font-weight="bold">(d)</text>
<text transform="translate(737.3,325.4) scale(1.03,1.06)" text-anchor="end" font-size="21" font-family="Liberation Sans, sans-serif" font-weight="bold">HCT116</text>
<rect x="582.7" y="373.4" width="150.7" height="98.2" fill="#fff" stroke="#111" stroke-width="1.5"/>
<line x1="595.3" y1="382.9" x2="630.9" y2="382.9" stroke="#4472C4" stroke-width="2.8"/><circle cx="612.2" cy="382.9" r="4.2" fill="#4472C4"/><text transform="translate(633.5,386.79999999999995) scale(0.9,1.12)" font-size="14.6" fill="#595959" font-family="Liberation Sans, sans-serif" font-weight="bold" xml:space="preserve">No drug</text><line x1="595.3" y1="402.4" x2="630.9" y2="402.4" stroke="#ED7D31" stroke-width="2.8"/><circle cx="612.2" cy="402.4" r="4.2" fill="#ED7D31"/><text transform="translate(633.5,406.29999999999995) scale(0.9,1.12)" font-size="14.6" fill="#595959" font-family="Liberation Sans, sans-serif" font-weight="bold" xml:space="preserve">Gd2_10uM</text><line x1="595.3" y1="421.9" x2="630.9" y2="421.9" stroke="#A5A5A5" stroke-width="2.8"/><circle cx="612.2" cy="421.9" r="4.2" fill="#A5A5A5"/><text transform="translate(633.5,425.79999999999995) scale(0.9,1.12)" font-size="14.6" fill="#595959" font-family="Liberation Sans, sans-serif" font-weight="bold" xml:space="preserve">Gd1_10uM</text><line x1="595.3" y1="441.5" x2="630.9" y2="441.5" stroke="#FFC000" stroke-width="2.8"/><circle cx="612.2" cy="441.5" r="4.2" fill="#FFC000"/><text transform="translate(633.5,445.4) scale(0.9,1.12)" font-size="14.6" fill="#595959" font-family="Liberation Sans, sans-serif" font-weight="bold" xml:space="preserve">Gd1_40uM</text><line x1="595.3" y1="461.8" x2="630.9" y2="461.8" stroke="#5B9BD5" stroke-width="2.8"/><circle cx="612.2" cy="461.8" r="4.2" fill="#5B9BD5"/><text transform="translate(633.5,465.7) scale(0.9,1.12)" font-size="14.6" fill="#595959" font-family="Liberation Sans, sans-serif" font-weight="bold" xml:space="preserve">TMPyP4_10uM</text>
</svg>
</body></html>
